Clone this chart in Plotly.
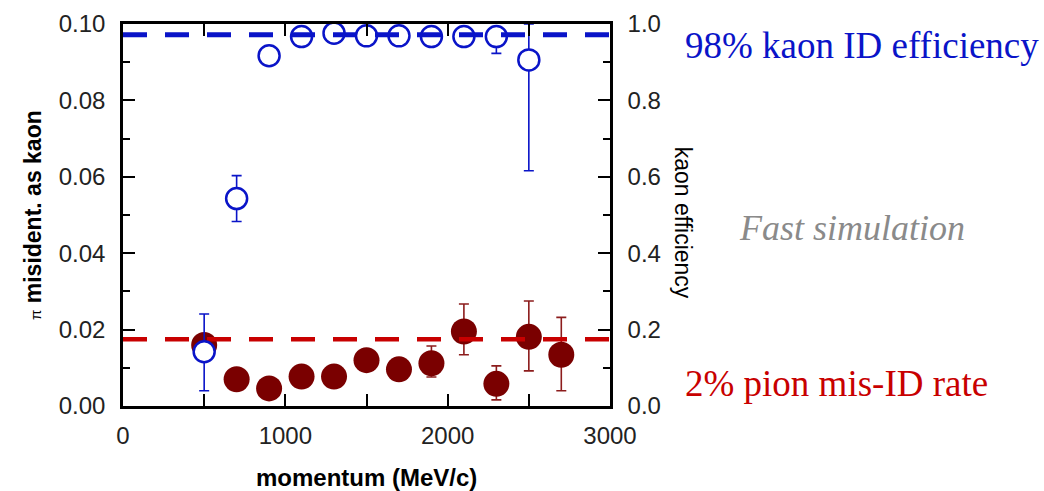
import plotly.graph_objects as go

# momentum bins (MeV/c)
momentum = [500, 700, 900, 1100, 1300, 1500, 1700, 1900, 2100, 2300, 2500, 2700]

# pion mis-identification as kaon (left axis)
pion_misid = [0.016, 0.0070, 0.0046, 0.0077, 0.0077, 0.0120, 0.0096, 0.0112, 0.0195, 0.0058, 0.0181, 0.0134]
pion_err_up = [0.002, 0.0015, 0.0012, 0.0015, 0.0015, 0.0018, 0.0015, 0.0045, 0.0072, 0.0047, 0.0094, 0.0098]
pion_err_dn = [0.002, 0.0015, 0.0012, 0.0015, 0.0015, 0.0018, 0.0015, 0.0036, 0.0061, 0.0042, 0.0089, 0.0094]

# kaon efficiency (right axis)
kaon_mom = [500, 700, 900, 1100, 1300, 1500, 1700, 1900, 2100, 2300, 2500]
kaon_eff = [0.142, 0.543, 0.917, 0.967, 0.976, 0.969, 0.969, 0.967, 0.967, 0.967, 0.906]
kaon_err_up = [0.099, 0.060, 0.010, 0.020, 0.017, 0.020, 0.020, 0.015, 0.010, 0.010, 0.094]
kaon_err_dn = [0.102, 0.060, 0.010, 0.024, 0.018, 0.020, 0.020, 0.015, 0.010, 0.044, 0.290]

# reference levels
ref_x = [0, 3000]
kaon_ref = [0.972, 0.972]
pion_ref = [0.0175, 0.0175]

x_ticks = [0, 1000, 2000, 3000]

BLUE = "#0a14c8"
MAROON = "#7a0000"
MAROON_ERR = "#8c1c1c"
RED = "#c80000"
SANS = "Liberation Sans, Arial, sans-serif"
SERIF = "Liberation Serif, Times New Roman, serif"

fig = go.Figure()

fig.add_trace(go.Scatter(
    x=momentum, y=pion_misid, mode="markers",
    marker=dict(size=26, color=MAROON, line=dict(width=0)),
    error_y=dict(type="data", symmetric=False, array=pion_err_up, arrayminus=pion_err_dn,
                 color=MAROON_ERR, thickness=1.6, width=5),
    yaxis="y", showlegend=False,
))

fig.add_trace(go.Scatter(
    x=kaon_mom, y=kaon_eff, mode="markers",
    marker=dict(size=21, color="white", symbol="circle", line=dict(width=2.5, color=BLUE)),
    error_y=dict(type="data", symmetric=False, array=kaon_err_up, arrayminus=kaon_err_dn,
                 color=BLUE, thickness=1.6, width=5),
    yaxis="y2", showlegend=False,
))

fig.add_trace(go.Scatter(
    x=ref_x, y=pion_ref, mode="lines",
    line=dict(color=RED, width=4.5, dash="24px,18px"),
    yaxis="y", showlegend=False,
))
fig.add_trace(go.Scatter(
    x=ref_x, y=kaon_ref, mode="lines",
    line=dict(color=BLUE, width=5, dash="24px,18px"),
    yaxis="y2", showlegend=False,
))

tickfont = dict(family=SANS, size=24, color="#222")
common = dict(ticks="inside", ticklen=12, tickwidth=2, tickcolor="black",
              showline=True, linewidth=2.5, linecolor="black",
              showgrid=False, zeroline=False, tickfont=tickfont, automargin=False)

fig.update_layout(
    template="none",
    width=1044, height=491,
    margin=dict(l=123, r=434, t=24, b=85, autoexpand=False),
    paper_bgcolor="white", plot_bgcolor="white",
    xaxis=dict(
        range=[0, 3000], tickvals=x_ticks, mirror="allticks", ticklabelstandoff=6,
        minor=dict(dtick=500, ticks="inside", ticklen=7, tickwidth=2, tickcolor="black"),
        **common,
    ),
    yaxis=dict(
        range=[0, 0.1], dtick=0.02, tickformat=".2f", ticklabelstandoff=10,
        minor=dict(dtick=0.01, ticks="inside", ticklen=7, tickwidth=2, tickcolor="black"),
        **common,
    ),
    yaxis2=dict(
        range=[0, 1.0], dtick=0.2, tickformat=".1f", overlaying="y", side="right",
        ticklabelstandoff=10,
        minor=dict(dtick=0.1, ticks="inside", ticklen=7, tickwidth=2, tickcolor="black"),
        **common,
    ),
    annotations=[
        dict(text="<b>momentum (MeV/c)</b>", xref="paper", yref="paper", x=0.5, y=0,
             yshift=-71, xanchor="center", yanchor="middle", showarrow=False,
             font=dict(family=SANS, size=24, color="black")),
        dict(text="<span style='font-weight:normal;font-size:15px'>π</span> <b>misident. as kaon</b>",
             xref="paper", yref="paper", x=0, y=0.5, xshift=-90, textangle=-90,
             xanchor="center", yanchor="middle", showarrow=False,
             font=dict(family=SANS, size=23, color="black")),
        dict(text="kaon efficiency", xref="paper", yref="paper", x=1, y=0.48, xshift=73,
             textangle=90, xanchor="center", yanchor="middle", showarrow=False,
             font=dict(family=SANS, size=23, color="black")),
        dict(text="98% kaon ID efficiency", xref="paper", yref="paper", x=1.150, y=0.945,
             xanchor="left", yanchor="middle", showarrow=False,
             font=dict(family=SERIF, size=37, color=BLUE)),
        dict(text="<i>Fast simulation</i>", xref="paper", yref="paper", x=1.261, y=0.466,
             xanchor="left", yanchor="middle", showarrow=False,
             font=dict(family=SERIF, size=36, color="#8a8a8a")),
        dict(text="2% pion mis-ID rate", xref="paper", yref="paper", x=1.150, y=0.060,
             xanchor="left", yanchor="middle", showarrow=False,
             font=dict(family=SERIF, size=37, color=RED)),
    ],
)

fig.write_html("out.html", config={"displayModeBar": False},
               post_script="document.body.style.margin='0';document.body.style.padding='0';")
